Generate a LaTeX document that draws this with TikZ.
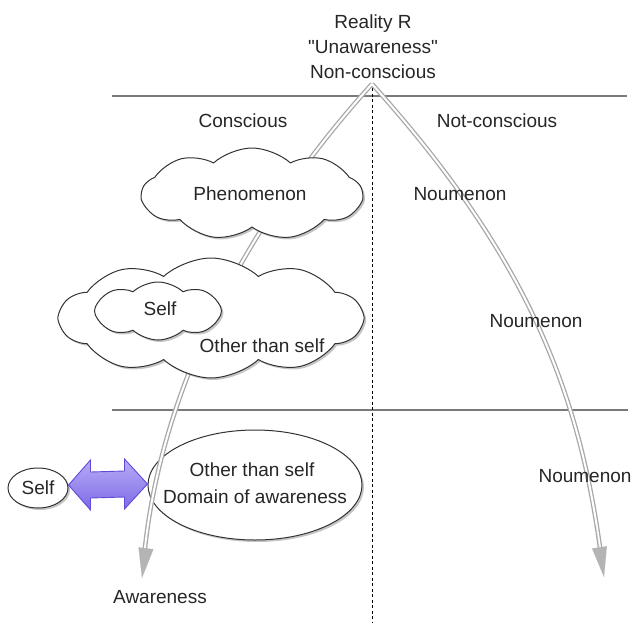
\documentclass[tikz,border=0pt]{standalone}
\usepackage{fontspec}
\setmainfont{Liberation Sans}
\usetikzlibrary{shapes.symbols,shapes.geometric,shadows,arrows.meta,calc}
\definecolor{txtc}{HTML}{262626}
\definecolor{sepc}{HTML}{7A7A7A}
\definecolor{flowc}{HTML}{A8A8A8}
\definecolor{tipc}{HTML}{B4B4B4}
\definecolor{purpT}{HTML}{B8ACF6}
\definecolor{purpB}{HTML}{7C6AE6}
\definecolor{purpD}{HTML}{5E4CD8}
\begin{document}
\begin{tikzpicture}[x=1pt,y=-1pt,
  font=\fontsize{19}{25}\selectfont,
  txt/.style={text=txtc, inner sep=0pt, align=center},
  cloudbox/.style={cloud, draw=black!80, line width=1pt, fill=white, cloud ignores aspect,
    inner sep=0pt, drop shadow={shadow xshift=2pt,shadow yshift=-2pt,fill=black!45}},
  ellbox/.style={ellipse, draw=black!80, line width=1pt, fill=white, inner sep=0pt, text=txtc, align=center,
    drop shadow={shadow xshift=2pt,shadow yshift=-2pt,fill=black!45}},
  sepline/.style={draw=sepc, line width=1.8pt},
  flowout/.style={draw=flowc, line width=4.6pt, shorten >=24pt},
  flowin/.style={draw=white, line width=2pt, shorten >=24pt},
  flowtip/.style={draw=tipc, line width=0.1pt, -{Triangle[length=30pt,width=15pt]}, tipc}]
\useasboundingbox (0,0) rectangle (637,624);

% separators
\coordinate (l1a) at (112,96);  \coordinate (l1b) at (627,96);
\coordinate (l2a) at (112,410); \coordinate (l2b) at (628,410);
\draw[sepline] (l1a) -- (l1b);
\draw[sepline] (l2a) -- (l2b);
\coordinate (vt) at (372,88); \coordinate (vb) at (372,622);
\draw[black, line width=1pt, dash pattern=on 3pt off 2.5pt] (vt) -- (vb);

% ellipses
\node[ellbox, minimum width=214pt, minimum height=110pt] (dom) at (255,485) {};
\node[ellbox, minimum width=60pt, minimum height=40pt] (sself) at (38,488) {Self};

% purple double arrow
\coordinate (pl) at ($(sself.east)+(0,-3)$);
\coordinate (pr) at ($(dom.west)+(0,-1)$);
\path[draw=purpD, line width=0.9pt, top color=purpT, bottom color=purpB]
  (pl) -- ($(pl)+(22,-25)$) -- ($(pl)+(22,-13)$) -- ($(pr)+(-23,-13)$) -- ($(pr)+(-23,-25)$)
  -- (pr) -- ($(pr)+(-23,25)$) -- ($(pr)+(-23,13)$) -- ($(pl)+(22,13)$) -- ($(pl)+(22,25)$) -- cycle;

% flow arrows
\coordinate (apex) at (372,84);
\coordinate (awend) at (142,578);
\coordinate (nuend) at (604,577);
\draw[flowout] (apex) .. controls (240,230) and (160,395) .. (awend);
\draw[flowout] (apex) .. controls (534,264) and (580,400) .. (nuend);
\draw[flowin] (apex) .. controls (240,230) and (160,395) .. (awend);
\draw[flowin] (apex) .. controls (534,264) and (580,400) .. (nuend);
\path (apex) .. controls (240,230) and (160,395) .. (awend) coordinate[pos=0.9] (awpre);
\path (apex) .. controls (534,264) and (580,400) .. (nuend) coordinate[pos=0.9] (nupre);
\draw[flowtip] (awpre) -- (awend);
\draw[flowtip] (nupre) -- (nuend);

% clouds
\node[cloudbox, cloud puffs=9, cloud puff arc=85, minimum width=220pt, minimum height=92pt] (phen) at (252,194) {};
\node[cloudbox, cloud puffs=10, cloud puff arc=85, minimum width=302pt, minimum height=120pt] (other) at (211,318) {};
\node[cloudbox, cloud puffs=8, cloud puff arc=85, minimum width=127pt, minimum height=58pt] (iself) at (158,311) {};

% texts
\node[txt] (real) at (373,47) {Reality R\\ \textquotedbl Unawareness\textquotedbl\\ Non-conscious};
\node[txt] (cons) at (243,121) {Conscious};
\node[txt] (ncons) at (497,121) {Not-conscious};
\node[txt] (phent) at (250,194) {Phenomenon};
\node[txt] (iselft) at (160,309) {Self};
\node[txt] (othert) at (262,346) {Other than self};
\node[txt] (domt1) at (252,470) {Other than self};
\node[txt] (domt2) at (255,497) {Domain of awareness};
\node[txt] (awt) at (160,597) {Awareness};
\node[txt] (n1) at (460,194) {Noumenon};
\node[txt] (n2) at (536,321) {Noumenon};
\node[txt] (n3) at (585,476) {Noumenon};
\end{tikzpicture}
\end{document}
